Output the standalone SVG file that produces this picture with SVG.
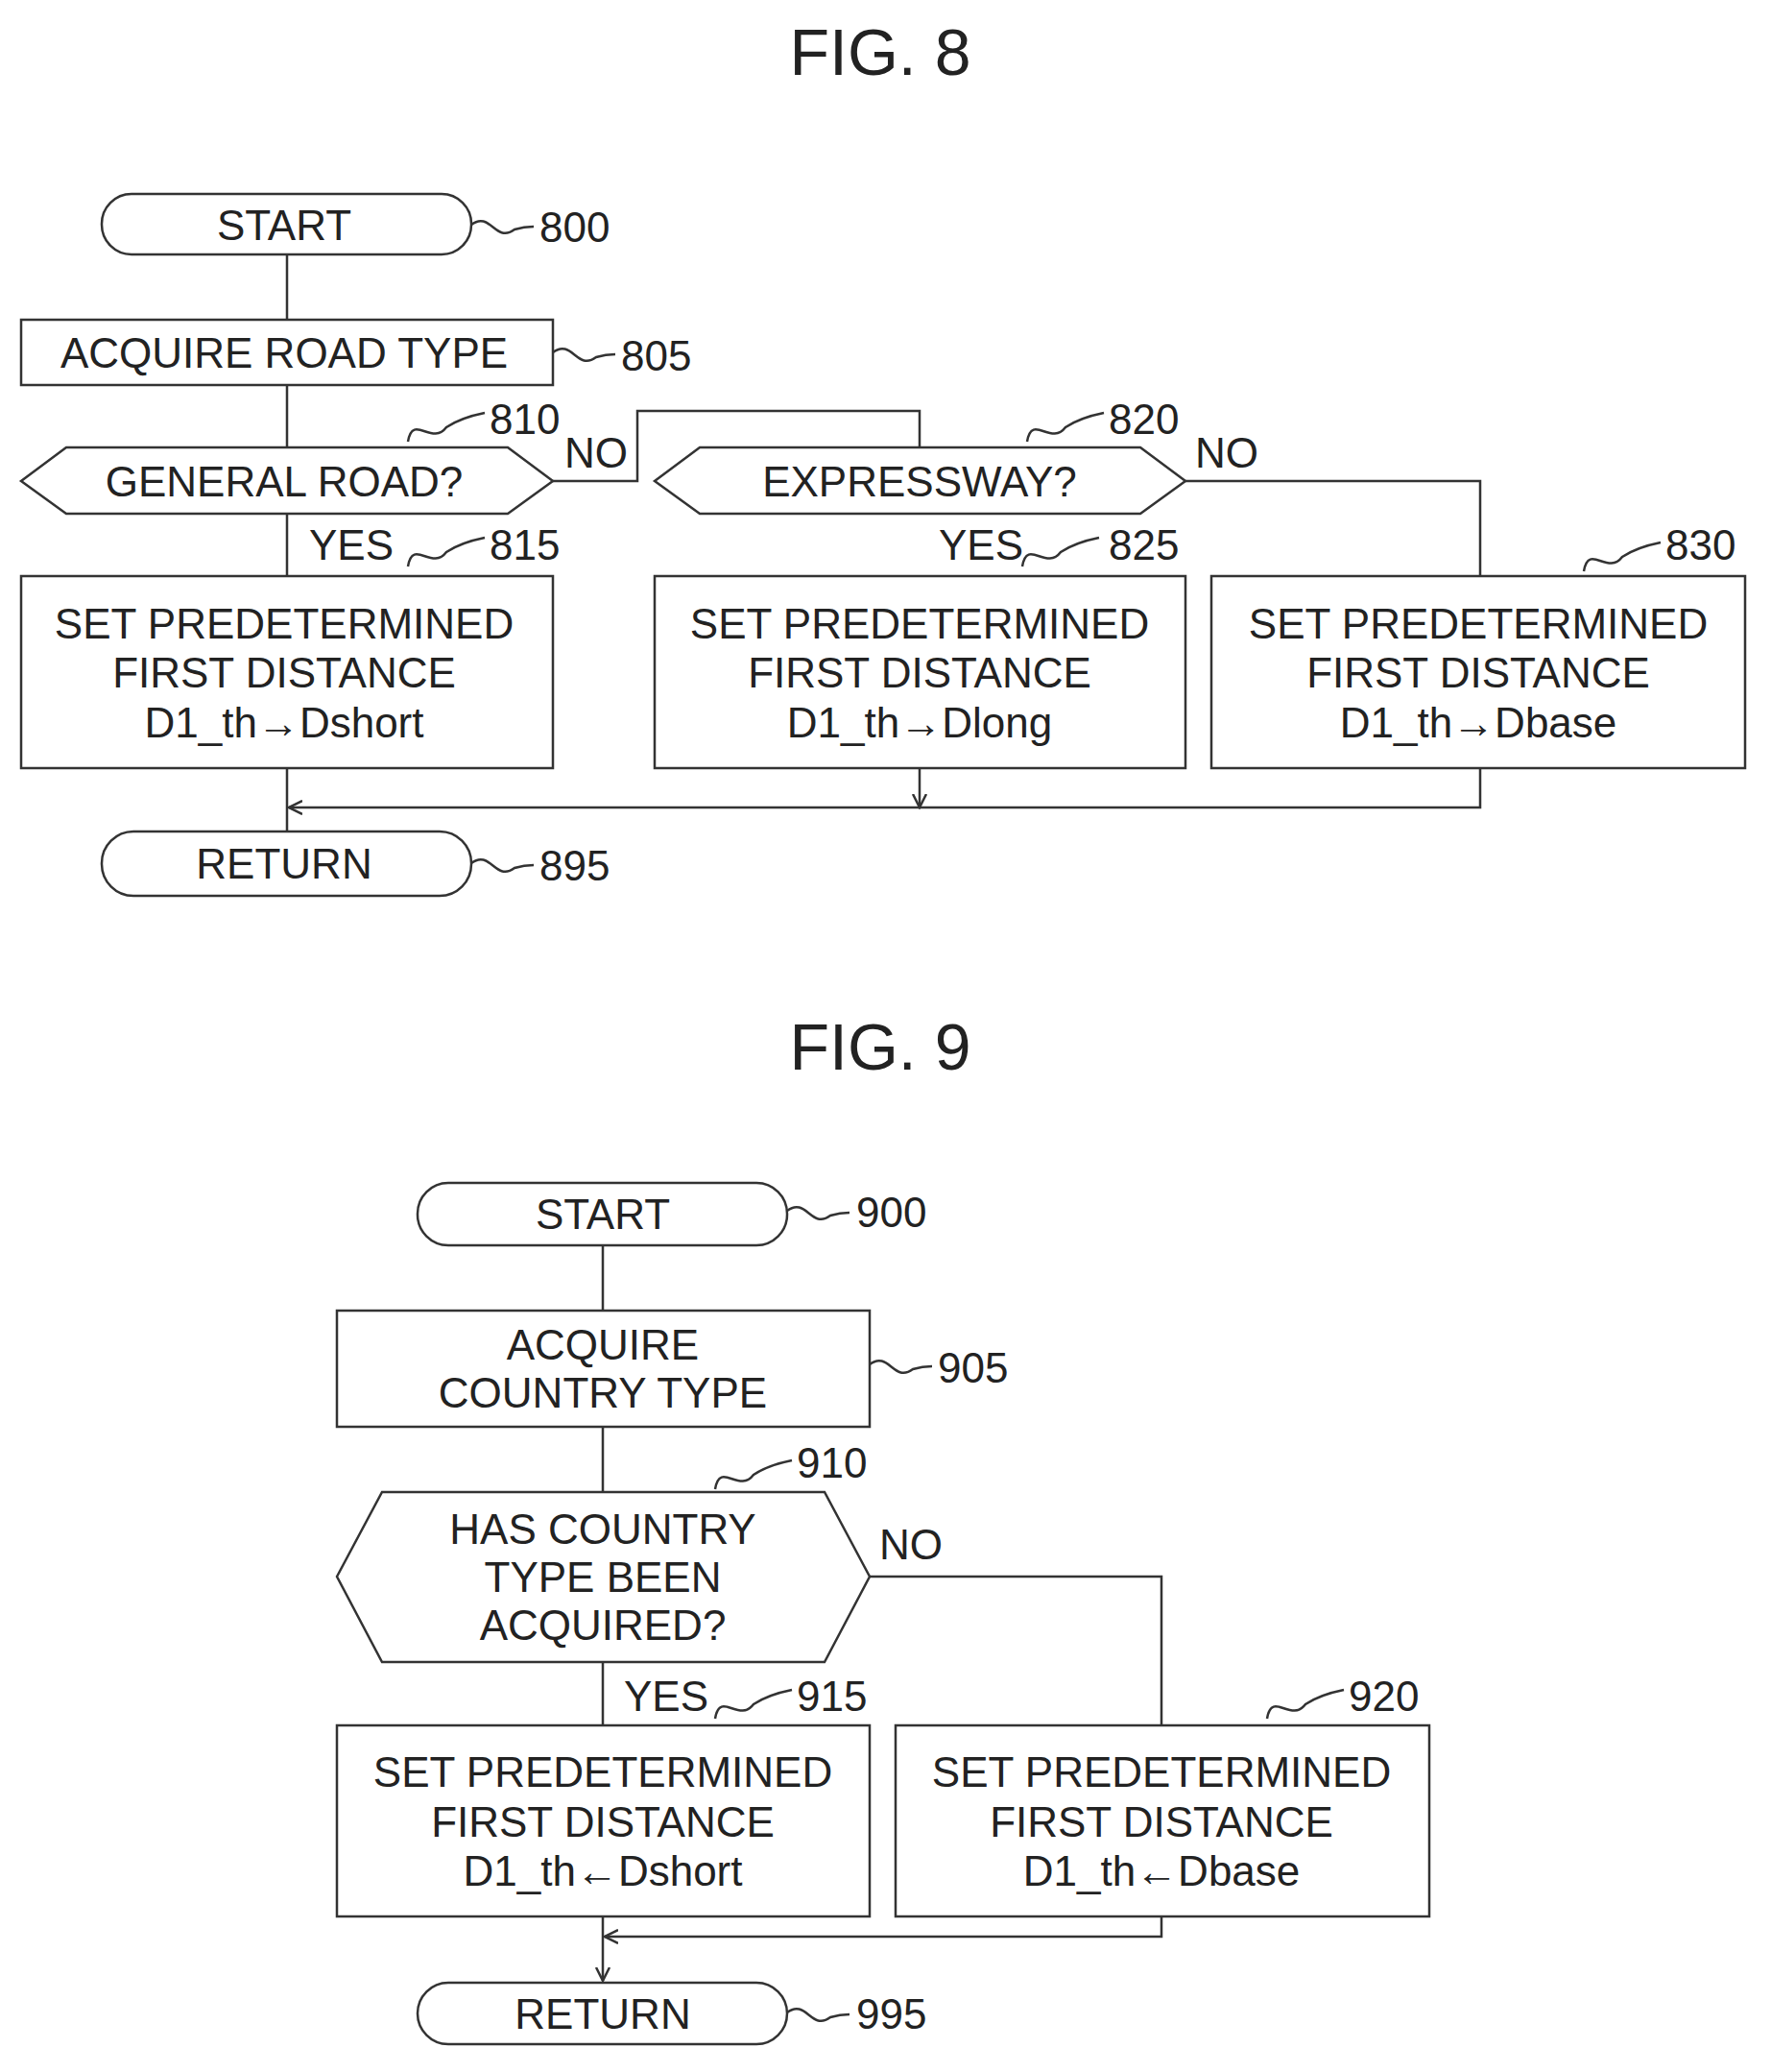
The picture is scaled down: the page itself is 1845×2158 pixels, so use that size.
<svg xmlns="http://www.w3.org/2000/svg" width="1845" height="2158" viewBox="0 0 1845 2158">
<style>
.s{fill:none;stroke:#333;stroke-width:2.5}
.n{fill:#fff;stroke:#333;stroke-width:2.5}
text{font-family:"Liberation Sans",Arial,sans-serif;font-size:44px;fill:#222;text-anchor:middle}
.l{text-anchor:start}
.t{font-size:68px}
</style>
<defs><marker id="a" markerWidth="16" markerHeight="16" refX="14" refY="8" orient="auto" markerUnits="userSpaceOnUse"><path d="M0,1 L14,8 L0,15" fill="none" stroke="#333" stroke-width="2.5"/></marker></defs>
<text class="t" x="917" y="78">FIG. 8</text>
<text class="t" x="917" y="1114">FIG. 9</text>
<g id="connectors" class="s">
<path d="M299,265V333M299,401V466M299,535V600M299,800V866"/>
<path d="M576,501H664V428H958V466"/>
<path d="M1235,501H1542V600"/>
<path d="M1542,800V841H301" marker-end="url(#a)"/>
<path d="M958,800V841" marker-end="url(#a)"/>
<path d="M628,1297V1365M628,1486V1554M628,1731V1797M628,1996V2063" marker-end="url(#a)"/>
<path d="M906,1642H1210V1797"/>
<path d="M1210,1996V2017H630" marker-end="url(#a)"/>
<path d="M491,234c20,-15 25,20 45,5 q10,-3 20,-3 M576,367c20,-15 25,20 45,5 q10,-3 20,-3 M425,460c5,-30 25,5 40,-15 q15,-10 40,-15 M1070,460c5,-30 25,5 40,-15 q15,-10 40,-15 M425,590c5,-30 25,5 40,-15 q15,-10 40,-15 M1065,590c5,-30 25,5 40,-15 q15,-10 40,-15 M1650,595c5,-30 25,5 40,-15 q15,-10 40,-15 M491,899c20,-15 25,20 45,5 q10,-3 20,-3 M820,1261c20,-15 25,20 45,5 q10,-3 20,-3 M906,1421c20,-15 25,20 45,5 q10,-3 20,-3 M745,1551c5,-30 25,5 40,-15 q15,-10 40,-15 M745,1790c5,-30 25,5 40,-15 q15,-10 40,-15 M1320,1790c5,-30 25,5 40,-15 q15,-10 40,-15 M820,2096c20,-15 25,20 45,5 q10,-3 20,-3"/>
</g>
<g id="n800"><rect class="n" x="106" y="202" width="385" height="63" rx="31"/><text x="296" y="250">START</text><text class="l" x="562" y="252">800</text></g>
<g id="n805"><rect class="n" x="22" y="333" width="554" height="68"/><text x="296" y="383">ACQUIRE ROAD TYPE</text><text class="l" x="647" y="386">805</text></g>
<g id="n810"><path class="n" d="M22,501L69,466H529L576,501L529,535H69Z"/><text x="296" y="517">GENERAL ROAD?</text><text class="l" x="510" y="452">810</text><text class="l" x="588" y="487">NO</text><text class="l" x="322" y="583">YES</text><text class="l" x="510" y="583">815</text></g>
<g id="n820"><path class="n" d="M682,501L729,466H1188L1235,501L1188,535H729Z"/><text x="958" y="517">EXPRESSWAY?</text><text class="l" x="1155" y="452">820</text><text class="l" x="1245" y="487">NO</text><text class="l" x="978" y="583">YES</text><text class="l" x="1155" y="583">825</text></g>
<g id="n815"><rect class="n" x="22" y="600" width="554" height="200"/><text x="296" y="665">SET PREDETERMINED</text><text x="296" y="716">FIRST DISTANCE</text><text x="296" y="768">D1_th→Dshort</text></g>
<g id="n825"><rect class="n" x="682" y="600" width="553" height="200"/><text x="958" y="665">SET PREDETERMINED</text><text x="958" y="716">FIRST DISTANCE</text><text x="958" y="768">D1_th→Dlong</text></g>
<g id="n830"><rect class="n" x="1262" y="600" width="556" height="200"/><text x="1540" y="665">SET PREDETERMINED</text><text x="1540" y="716">FIRST DISTANCE</text><text x="1540" y="768">D1_th→Dbase</text><text class="l" x="1735" y="583">830</text></g>
<g id="n895"><rect class="n" x="106" y="866" width="385" height="67" rx="33"/><text x="296" y="915">RETURN</text><text class="l" x="562" y="917">895</text></g>
<g id="n900"><rect class="n" x="435" y="1232" width="385" height="65" rx="32"/><text x="628" y="1280">START</text><text class="l" x="892" y="1278">900</text></g>
<g id="n905"><rect class="n" x="351" y="1365" width="555" height="121"/><text x="628" y="1416">ACQUIRE</text><text x="628" y="1466">COUNTRY TYPE</text><text class="l" x="977" y="1440">905</text></g>
<g id="n910"><path class="n" d="M351,1642L398,1554H859L906,1642L859,1731H398Z"/><text x="628" y="1608">HAS COUNTRY</text><text x="628" y="1658">TYPE BEEN</text><text x="628" y="1708">ACQUIRED?</text><text class="l" x="830" y="1539">910</text><text class="l" x="916" y="1624">NO</text><text class="l" x="650" y="1782">YES</text><text class="l" x="830" y="1782">915</text></g>
<g id="n915"><rect class="n" x="351" y="1797" width="555" height="199"/><text x="628" y="1861">SET PREDETERMINED</text><text x="628" y="1913">FIRST DISTANCE</text><text x="628" y="1964">D1_th←Dshort</text></g>
<g id="n920"><rect class="n" x="933" y="1797" width="556" height="199"/><text x="1210" y="1861">SET PREDETERMINED</text><text x="1210" y="1913">FIRST DISTANCE</text><text x="1210" y="1964">D1_th←Dbase</text><text class="l" x="1405" y="1782">920</text></g>
<g id="n995"><rect class="n" x="435" y="2065" width="385" height="64" rx="32"/><text x="628" y="2113">RETURN</text><text class="l" x="892" y="2113">995</text></g>
</svg>
